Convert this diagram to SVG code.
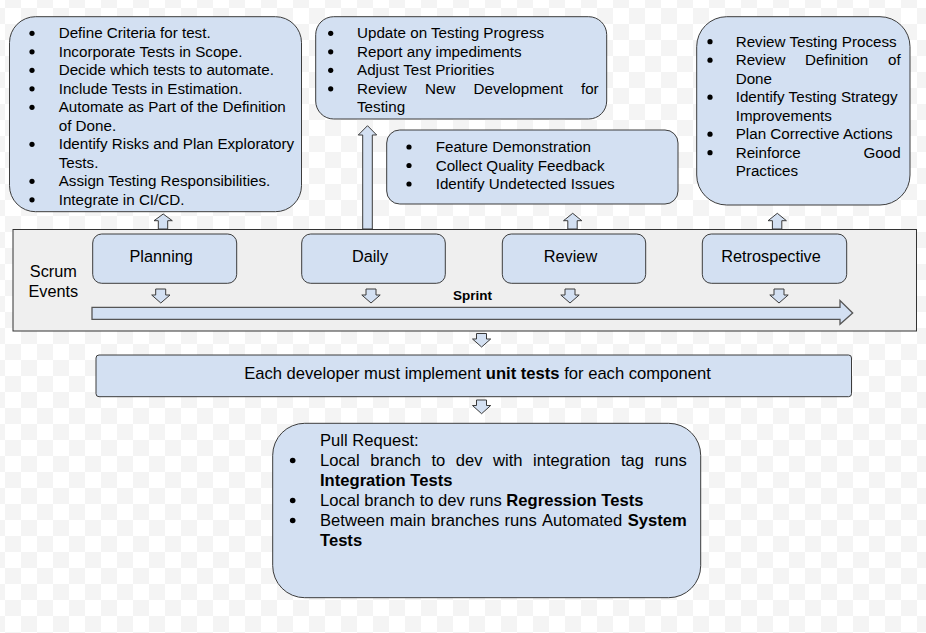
<svg xmlns="http://www.w3.org/2000/svg" width="926" height="633" viewBox="0 0 926 633">
<defs>
<pattern id="chk" x="5" y="8" width="32" height="32" patternUnits="userSpaceOnUse">
<rect width="32" height="32" fill="#ffffff"/>
<rect x="16" y="0" width="16" height="16" fill="#f4f4f4"/>
<rect x="0" y="16" width="16" height="16" fill="#f4f4f4"/>
</pattern>
<style>
.box{fill:#d3e0f2;stroke:#3c3c3c;stroke-width:1}
.frame{fill:#efefef;stroke:#333;stroke-width:1}
.arr{fill:#d3e0f2;stroke:#3a3a3a;stroke-width:1;stroke-linejoin:miter}
.t{font-family:"Liberation Sans",Arial,sans-serif;font-size:15.2px;fill:#000}
.ev{font-family:"Liberation Sans",Arial,sans-serif;font-size:16.3px;fill:#000}
.lg{font-family:"Liberation Sans",Arial,sans-serif;font-size:16.6px;fill:#000}
.b{font-weight:bold}
.dot{fill:#000}
</style>
</defs>
<rect width="926" height="633" fill="url(#chk)"/>

<g id="scrum-events">
<rect class="frame" x="13" y="229.5" width="903.5" height="101.5"/>
<text class="ev" x="53.3" y="277.3" text-anchor="middle">Scrum</text>
<text class="ev" x="53.3" y="296.7" text-anchor="middle">Events</text>
</g>

<g id="planning-notes">
<rect class="box" x="9.5" y="16.7" width="292" height="195" rx="26" ry="26"/>
<g class="dot">
<circle cx="32" cy="33.3" r="2.6"/><circle cx="32" cy="51.8" r="2.6"/><circle cx="32" cy="70.3" r="2.6"/><circle cx="32" cy="88.8" r="2.6"/><circle cx="32" cy="107.3" r="2.6"/><circle cx="32" cy="144.3" r="2.6"/><circle cx="32" cy="181.3" r="2.6"/><circle cx="32" cy="199.8" r="2.6"/>
</g>
<text class="t" x="58.7" y="38.3">Define Criteria for test.</text>
<text class="t" x="58.7" y="56.8">Incorporate Tests in Scope.</text>
<text class="t" x="58.7" y="75.3">Decide which tests to automate.</text>
<text class="t" x="58.7" y="93.8">Include Tests in Estimation.</text>
<text class="t" x="58.7" y="112.3">Automate as Part of the Definition</text>
<text class="t" x="58.7" y="130.8">of Done.</text>
<text class="t" x="58.7" y="149.3">Identify Risks and Plan Exploratory</text>
<text class="t" x="58.7" y="167.8">Tests.</text>
<text class="t" x="58.7" y="186.3">Assign Testing Responsibilities.</text>
<text class="t" x="58.7" y="204.8">Integrate in CI/CD.</text>
</g>

<g id="daily-notes">
<rect class="box" x="315.7" y="16.7" width="291" height="102.3" rx="18" ry="18"/>
<g class="dot">
<circle cx="330.7" cy="33.3" r="2.6"/><circle cx="330.7" cy="51.8" r="2.6"/><circle cx="330.7" cy="70.3" r="2.6"/><circle cx="330.7" cy="88.8" r="2.6"/>
</g>
<text class="t" x="357" y="38.3">Update on Testing Progress</text>
<text class="t" x="357" y="56.8">Report any impediments</text>
<text class="t" x="357" y="75.3">Adjust Test Priorities</text>
<text class="t" y="93.8"><tspan x="357">Review</tspan><tspan x="425">New</tspan><tspan x="473.5">Development</tspan></text>
<text class="t" x="598.7" y="93.8" text-anchor="end">for</text>
<text class="t" x="357" y="112.3">Testing</text>
</g>

<g id="review-notes">
<rect class="box" x="386.7" y="130" width="291.3" height="74" rx="13" ry="13"/>
<g class="dot">
<circle cx="409" cy="147" r="2.6"/><circle cx="409" cy="165.5" r="2.6"/><circle cx="409" cy="184" r="2.6"/>
</g>
<text class="t" x="435.7" y="152">Feature Demonstration</text>
<text class="t" x="435.7" y="170.5">Collect Quality Feedback</text>
<text class="t" x="435.7" y="189">Identify Undetected Issues</text>
</g>

<g id="retro-notes">
<rect class="box" x="696.7" y="16.7" width="213.3" height="188.3" rx="30" ry="30"/>
<g class="dot">
<circle cx="710" cy="41.7" r="2.6"/><circle cx="710" cy="60.2" r="2.6"/><circle cx="710" cy="97.2" r="2.6"/><circle cx="710" cy="134.2" r="2.6"/><circle cx="710" cy="152.7" r="2.6"/>
</g>
<text class="t" x="735.7" y="46.7">Review Testing Process</text>
<text class="t" y="65.2"><tspan x="735.7">Review</tspan><tspan x="805">Definition</tspan></text>
<text class="t" x="900.7" y="65.2" text-anchor="end">of</text>
<text class="t" x="735.7" y="83.7">Done</text>
<text class="t" x="735.7" y="102.2">Identify Testing Strategy</text>
<text class="t" x="735.7" y="120.7">Improvements</text>
<text class="t" x="735.7" y="139.2">Plan Corrective Actions</text>
<text class="t" x="735.7" y="157.7">Reinforce</text>
<text class="t" x="900.7" y="157.7" text-anchor="end">Good</text>
<text class="t" x="735.7" y="176.2">Practices</text>
</g>

<g id="planning">
<rect class="box" x="92.7" y="234" width="144" height="49.3" rx="9" ry="9"/>
<text class="ev" x="161.2" y="261.5" text-anchor="middle">Planning</text>
</g>
<g id="daily">
<rect class="box" x="301.7" y="234" width="143.6" height="49.3" rx="9" ry="9"/>
<text class="ev" x="370" y="261.5" text-anchor="middle">Daily</text>
</g>
<g id="review">
<rect class="box" x="502.3" y="234" width="143.4" height="49.3" rx="9" ry="9"/>
<text class="ev" x="570.5" y="261.5" text-anchor="middle">Review</text>
</g>
<g id="retrospective">
<rect class="box" x="702.3" y="234" width="144.4" height="49.3" rx="9" ry="9"/>
<text class="ev" x="771" y="261.5" text-anchor="middle">Retrospective</text>
</g>

<g id="sprint">
<polygon class="arr" points="92,307.3 840,307.3 840,300.5 852.7,313 840,324.3 840,319.3 92,319.3" style="stroke:#555;stroke-width:1.3"/>
<text class="t b" x="472.5" y="300" text-anchor="middle" style="font-size:13.5px">Sprint</text>
</g>

<g id="unit-tests">
<rect class="box" x="96" y="355" width="755.5" height="41.7" rx="3" ry="3"/>
<text class="lg" x="477.5" y="379.3" text-anchor="middle">Each developer must implement <tspan class="b">unit tests</tspan> for each component</text>
</g>

<g id="pull-request">
<rect class="box" x="272.7" y="423.3" width="428" height="174.4" rx="32" ry="32"/>
<g class="dot">
<circle cx="292.7" cy="460.5" r="2.8"/><circle cx="292.7" cy="500.5" r="2.8"/><circle cx="292.7" cy="520.5" r="2.8"/>
</g>
<text class="lg" x="320" y="446">Pull Request:</text>
<text class="lg" y="466"><tspan x="320">Local</tspan><tspan x="370.2">branch</tspan><tspan x="431.4">to</tspan><tspan x="455.7">dev</tspan><tspan x="493">with</tspan><tspan x="533">integration</tspan><tspan x="621">tag</tspan></text>
<text class="lg" x="686.7" y="466" text-anchor="end">runs</text>
<text class="lg b" x="320" y="486">Integration Tests</text>
<text class="lg" x="320" y="506">Local branch to dev runs <tspan class="b">Regression Tests</tspan></text>
<text class="lg" y="526"><tspan x="320">Between</tspan><tspan x="389.8">main</tspan><tspan x="431">branches</tspan><tspan x="504.5">runs</tspan><tspan x="542">Automated</tspan></text>
<text class="lg b" x="686.7" y="526" text-anchor="end">System</text>
<text class="lg b" x="320" y="545.7">Tests</text>
</g>

<g id="connectors">
<polygon class="arr" points="158.3,229 158.3,220.7 154,220.7 163.2,214 172.3,220.7 167.7,220.7 167.7,229"/>
<polygon class="arr" points="362.7,229 362.7,135 358.3,135 367.5,125.7 376.7,135 372.3,135 372.3,229"/>
<polygon class="arr" points="567.8,229 567.8,220.7 563.5,220.7 572.7,213.3 581.8,220.7 577.2,220.7 577.2,229"/>
<polygon class="arr" points="772.4,229 772.4,220.7 768.1,220.7 777.3,213.3 786.4,220.7 781.8,220.7 781.8,229"/>
<polygon class="arr" points="155.7,289 165.7,289 165.7,295 170,295 160.8,303 151.7,295 155.7,295"/>
<polygon class="arr" points="366,289 376,289 376,295 380.2,295 371,303 361.8,295 366,295"/>
<polygon class="arr" points="565,289 575,289 575,295 579.2,295 570,303 560.8,295 565,295"/>
<polygon class="arr" points="774,289 784,289 784,295 788.2,295 779,303 769.8,295 774,295"/>
<polygon class="arr" points="476.5,333.5 486.5,333.5 486.5,339 490.7,339 481.6,347 472.5,339 476.5,339"/>
<polygon class="arr" points="476.5,400 486.5,400 486.5,405.5 490.7,405.5 481.6,413.7 472.5,405.5 476.5,405.5"/>
</g>
</svg>
